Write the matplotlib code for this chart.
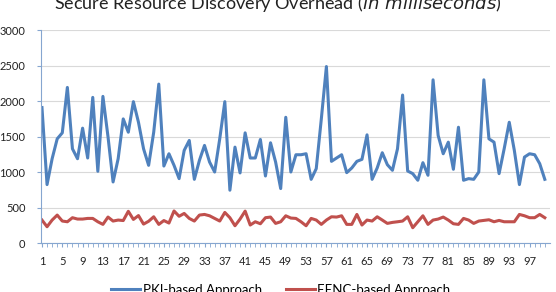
import matplotlib.pyplot as plt
import numpy as np

# run index 1..100
runs = np.arange(1, 101)

pki_ms = [1910, 826, 1190, 1470, 1554, 2193, 1330, 1190, 1620, 1200,
          2053, 1013, 2067, 1500, 863, 1190, 1750, 1563, 1993, 1703,
          1330, 1097, 1563, 2240, 1087, 1260, 1097, 910, 1307, 1447,
          900, 1167, 1377, 1143, 1003, 1470, 1993, 747, 1353, 990,
          1554, 1200, 1200, 1461, 947, 1414, 1143, 770, 1773, 1003,
          1246, 1246, 1260, 900, 1050, 1750, 2487, 1153, 1200, 1246,
          994, 1060, 1153, 1181, 1526, 900, 1060, 1274, 1106, 1027,
          1330, 2086, 1017, 980, 887, 1134, 957, 2300, 1517, 1260,
          1423, 1041, 1633, 887, 910, 900, 1003, 2300, 1470, 1423,
          980, 1330, 1703, 1307, 826, 1213, 1260, 1246, 1120, 900]

eenc_ms = [327, 233, 327, 397, 313, 303, 360, 341, 341, 350,
           350, 303, 266, 369, 313, 327, 320, 450, 336, 390,
           270, 310, 373, 266, 320, 285, 455, 380, 420, 350,
           313, 397, 406, 387, 350, 313, 434, 360, 247, 341,
           453, 257, 303, 275, 360, 369, 280, 303, 387, 355,
           350, 303, 247, 350, 327, 266, 327, 373, 369, 387,
           266, 266, 406, 257, 327, 313, 373, 327, 280, 294,
           303, 313, 373, 219, 303, 387, 266, 327, 341, 369,
           327, 275, 266, 350, 327, 280, 313, 322, 331, 303,
           322, 303, 303, 303, 406, 387, 360, 360, 406, 360]

yticks = [0, 500, 1000, 1500, 2000, 2500, 3000]
xlabels = list(range(1, 101, 4))

plt.rcParams['font.family'] = ['Lato', 'DejaVu Sans']

fig = plt.figure(figsize=(5.56, 2.92), dpi=100)
ax = fig.add_axes([0.0732, 0.1668, 0.9158, 0.7302])

ax.plot(runs, pki_ms, color='#4F81BD', linewidth=2.2, label='PKI-based Approach')
ax.plot(runs, eenc_ms, color='#C0504D', linewidth=2.2, label='EENC-based Approach')

ax.set_xlim(0.75, 101)
ax.set_ylim(0, 3000)
ax.set_yticks(yticks)
ax.set_xticks(xlabels)
ax.set_xticks(runs, minor=True)
ax.grid(axis='y', color='#D9D9D9', linewidth=0.8)
ax.set_axisbelow(True)

for s in ['top', 'right']:
    ax.spines[s].set_visible(False)
for s in ['left', 'bottom']:
    ax.spines[s].set_color('#86A6D0')
    ax.spines[s].set_linewidth(0.8)

ax.tick_params(axis='y', length=3, color='#86A6D0', labelsize=8, pad=8, labelcolor='#222222')
ax.tick_params(axis='x', which='both', length=3, color='#86A6D0', labelsize=8, pad=6, labelcolor='#222222')

fig.text(0.5, 1 - 9 / 292, 'Secure Resource Discovery Overhead (' + r'$\it{in\ milliseconds}$' + ')',
         ha='center', va='baseline', fontsize=13, color='#222222')

fig.legend(loc='center', bbox_to_anchor=(0.505, 2 / 292), ncol=2, frameon=False,
           fontsize=9.5, handlelength=2.2, columnspacing=1.8, handletextpad=0.2)

plt.savefig('out.png', dpi=100)
